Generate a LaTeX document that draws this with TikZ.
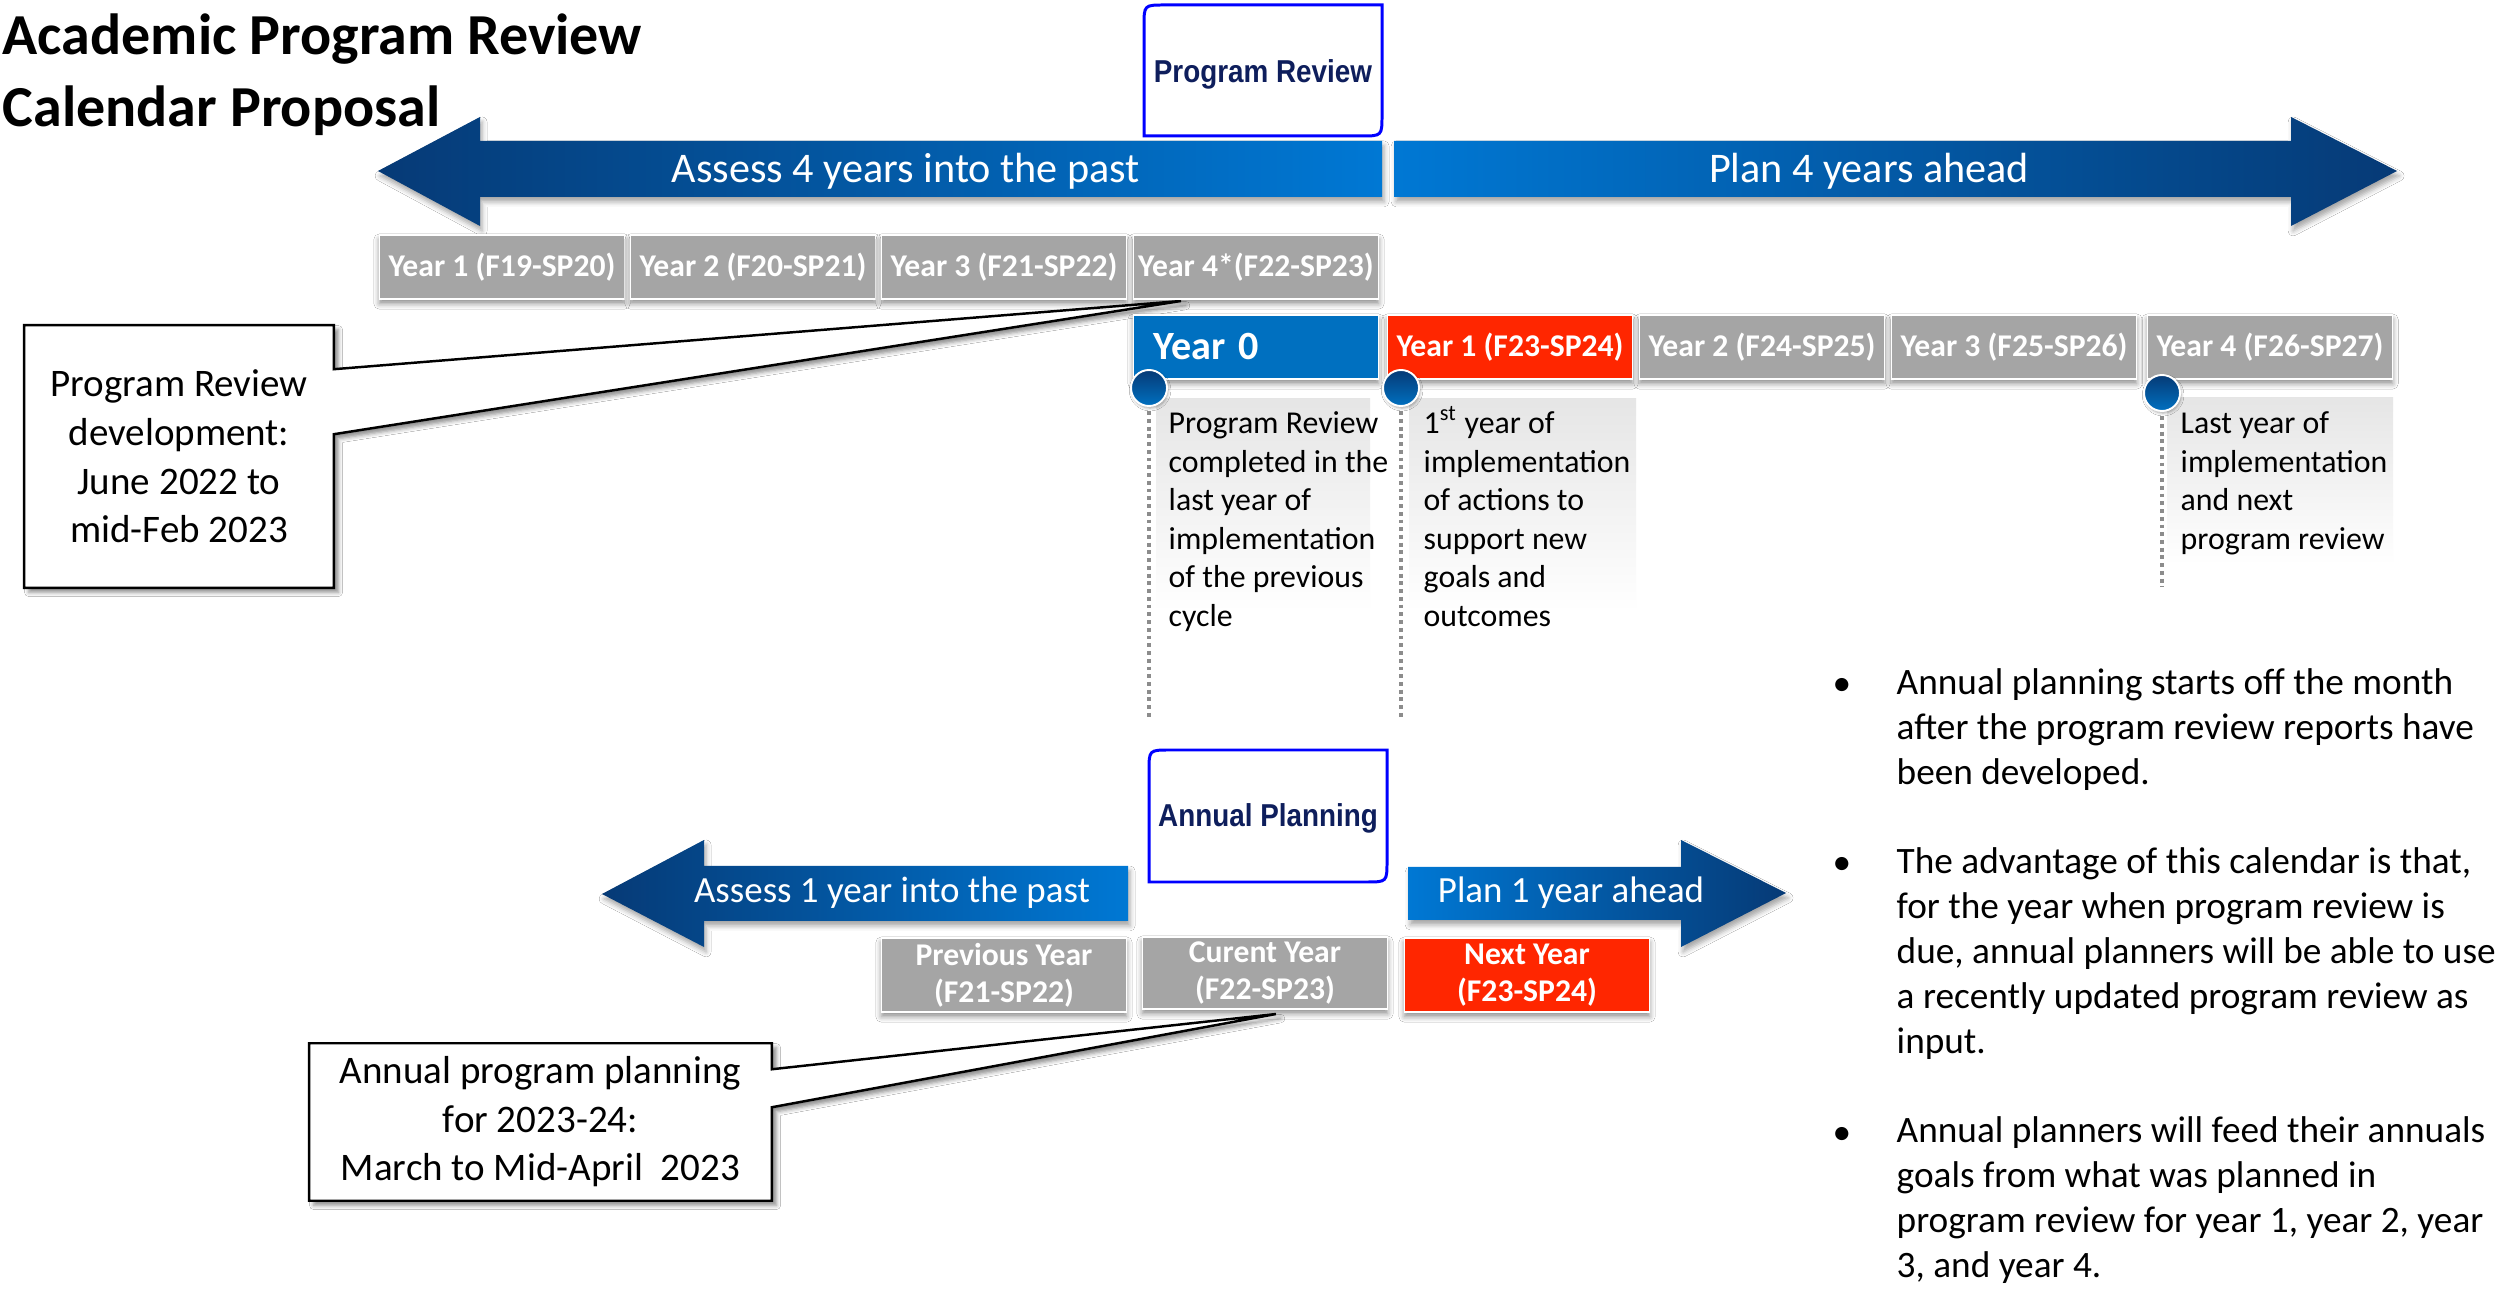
\documentclass[tikz,border=0pt]{standalone}
\usepackage{fontspec}
\setmainfont{Carlito}
\newfontfamily\arialfont[FakeStretch=0.88]{Liberation Sans}
\usetikzlibrary{calc,shadows.blur}

\definecolor{navyA}{RGB}{6,58,118}
\definecolor{brightA}{RGB}{0,120,212}
\definecolor{yrgray}{RGB}{165,165,165}
\definecolor{yrred}{RGB}{255,38,0}
\definecolor{yrblue}{RGB}{0,112,192}
\definecolor{boxblue}{RGB}{0,0,255}
\definecolor{titlenavy}{RGB}{14,30,92}
\definecolor{dotgray}{RGB}{140,140,140}

\begin{document}
\begin{tikzpicture}[x=0.01cm,y=-0.01cm,
  yrbox/.style={minimum width=2.45cm, minimum height=0.64cm, inner sep=0pt,
    draw=white, line width=0.45pt, text=white,
    font=\bfseries\fontsize{9}{10.5}\selectfont,
    blur shadow={shadow xshift=0pt, shadow yshift=-1.3pt, shadow blur radius=1.6pt, shadow opacity=45}},
  arrowshape/.style={blur shadow={shadow xshift=0.6pt, shadow yshift=-1.4pt, shadow blur radius=1.4pt, shadow opacity=35}},
  atxt/.style={text=white, inner sep=0pt, font=\fontsize{12}{14}\selectfont},
  atxtsmall/.style={text=white, inner sep=0pt, font=\fontsize{10.5}{12.5}\selectfont},
  pbox/.style={draw=boxblue, line width=0.85pt, fill=white},
  prtext/.style={text=titlenavy, inner sep=0pt, font=\arialfont\bfseries\fontsize{9}{10.8}\selectfont},
  paneltxt/.style={anchor=north west, inner sep=0pt, align=left, font=\fontsize{9.05}{10.95}\selectfont},
  panelfill/.style={top color=black!10, bottom color=white},
  dotline/.style={draw=dotgray, line width=1.1pt, dash pattern=on 1.1pt off 1.1pt},
  pin/.style={circle, minimum size=0.36cm, inner sep=0pt, top color=navyA, bottom color=yrblue,
    draw=white, line width=0.55pt,
    blur shadow={shadow xshift=0.3pt, shadow yshift=-0.6pt, shadow blur radius=0.8pt, shadow opacity=35}},
  callout/.style={draw=black, line width=0.7pt, fill=white, line join=miter,
    blur shadow={shadow xshift=1.3pt, shadow yshift=-1.3pt, shadow blur radius=1.2pt, shadow opacity=45}},
  cotext/.style={inner sep=0pt, align=center, font=\fontsize{11.1}{13.8}\selectfont},
  btext/.style={anchor=north west, inner sep=0pt, align=left, font=\fontsize{10.6}{12.8}\selectfont},
  bdot/.style={anchor=base, inner sep=0pt, font=\fontsize{10.6}{12.8}\selectfont}
]
\fill[white] (0,0) rectangle (2509,1289);
\useasboundingbox (0,0) rectangle (2509,1289);

% title
\node[anchor=north west, inner sep=0pt, align=left, font=\bfseries\fontsize{16.5}{20.5}\selectfont] (title) at (2,13) {Academic Program Review\\Calendar Proposal};

% Program Review box
\draw[pbox] (1144,136) -- (1144,26) .. controls (1144,5) .. (1165,5) -- (1382,5) -- (1382,115) .. controls (1382,136) .. (1361,136) -- cycle;
\node[prtext] (prt) at (1263,74) {Program Review};

% big arrows
\path[arrowshape, left color=navyA, right color=brightA] (378,171) -- (480,117) -- (480,141) -- (1382,141) -- (1382,197) -- (480,197) -- (480,226) -- cycle;
\path[arrowshape, left color=brightA, right color=navyA] (1394,141) -- (2291,141) -- (2291,117) -- (2397,171) -- (2291,226) -- (2291,197) -- (1394,197) -- cycle;
\node[atxt] (a1) at (906,171) {Assess 4 years into the past};
\node[atxt] (a2) at (1869,171) {Plan 4 years ahead};

% callout 1 (behind year boxes)
\node[inner sep=0pt, minimum width=3.08cm, minimum height=2.61cm] (cb1) at (179,456.5) {};
\coordinate (tip1) at (1181,301);
\draw[callout] (cb1.north west) -- (cb1.north east) -- ($(cb1.north east)+(0,44)$) -- (tip1) -- ($(cb1.north east)+(0,109)$) -- (cb1.south east) -- (cb1.south west) -- cycle;
\node[cotext] (cb1t) at (cb1) {Program Review\\development:\\June 2022 to\\mid-Feb 2023};

% top year row
\node[yrbox, fill=yrgray] (y1) at (502,267) {Year 1 (F19-SP20)};
\node[yrbox, fill=yrgray] (y2) at (753,267) {Year 2 (F20-SP21)};
\node[yrbox, fill=yrgray] (y3) at (1004,267) {Year 3 (F21-SP22)};
\node[yrbox, fill=yrgray] (y4) at (1256,267) {Year 4*(F22-SP23)};

% panels
\path[panelfill] (1156,399) rectangle (1370,612);
\path[panelfill] (1409,399) rectangle (1636,612);
\path[panelfill] (2167,398) rectangle (2393,565);

% second year row
\node[yrbox, fill=yrblue, align=left, text width=2.05cm, font=\bfseries\fontsize{11.4}{13}\selectfont] (z0) at (1256,347) {Year 0};
\node[yrbox, fill=yrred] (z1) at (1510,347) {Year 1 (F23-SP24)};
\node[yrbox, fill=yrgray] (z2) at (1762,347) {Year 2 (F24-SP25)};
\node[yrbox, fill=yrgray] (z3) at (2014,347) {Year 3 (F25-SP26)};
\node[yrbox, fill=yrgray] (z4) at (2270,347) {Year 4 (F26-SP27)};

% dotted lines and pins
\coordinate (c1) at (1149,388); \coordinate (e1) at (1149,717);
\coordinate (c2) at (1401,388); \coordinate (e2) at (1401,717);
\coordinate (c3) at (2162,393); \coordinate (e3) at (2162,587);
\draw[dotline] (c1) -- (e1);
\draw[dotline] (c2) -- (e2);
\draw[dotline] (c3) -- (e3);
\node[pin] (k1) at (c1) {};
\node[pin] (k2) at (c2) {};
\node[pin] (k3) at (c3) {};

\node[paneltxt] (p1) at (1168,411) {Program Review\\completed in the\\last year of\\implementation\\of the previous\\cycle};
\node[paneltxt] (p2) at (1423,411) {1\smash{\textsuperscript{st}} year of\\implementation\\of actions to\\support new\\goals and\\outcomes};
\node[paneltxt] (p3) at (2180,411) {Last year of\\implementation\\and next\\program review};

% Annual planning box
\draw[pbox] (1149,882) -- (1149,771) .. controls (1149,750) .. (1170,750) -- (1387,750) -- (1387,861) .. controls (1387,882) .. (1366,882) -- cycle;
\node[prtext] (apt) at (1268,818) {Annual Planning};

% small arrows
\path[arrowshape, left color=navyA, right color=brightA] (602,894) -- (704,840) -- (704,866) -- (1128,866) -- (1128,921) -- (704,921) -- (704,947) -- cycle;
\path[arrowshape, left color=brightA, right color=navyA] (1408,867) -- (1681,867) -- (1681,840) -- (1786,893) -- (1681,947) -- (1681,920) -- (1408,920) -- cycle;
\node[atxtsmall] (a3) at (892,893) {Assess 1 year into the past};
\node[atxtsmall] (a4) at (1571,893) {Plan 1 year ahead};

% callout 2
\node[inner sep=0pt, minimum width=4.61cm, minimum height=1.56cm] (cb2) at (540.5,1122) {};
\coordinate (tip2) at (1276,1014);
\draw[callout] (cb2.north west) -- (cb2.north east) -- ($(cb2.north east)+(0,26)$) -- (tip2) -- ($(cb2.north east)+(0,64)$) -- (cb2.south east) -- (cb2.south west) -- cycle;
\node[cotext] (cb2t) at (cb2) {Annual program planning\\for 2023-24:\\March to Mid-April~~2023};

% bottom year boxes
\node[yrbox, fill=yrgray, minimum height=0.74cm, align=center] (prev) at (1004,975) {Previous Year\\(F21-SP22)};
\node[yrbox, fill=yrgray, minimum height=0.72cm, align=center] (cur) at (1265,973) {Curent Year\\(F22-SP23)};
\node[yrbox, fill=yrred, minimum height=0.74cm, align=center] (next) at (1527,975) {Next Year\\(F23-SP24)};

% bullets
\node[bdot] (bd1) at (1842,696) {•};
\node[btext] (bt1) at (1896,668) {Annual planning starts off the month\\after the program review reports have\\been developed.};
\node[bdot] (bd2) at (1842,875) {•};
\node[btext] (bt2) at (1896,847) {The advantage of this calendar is that,\\for the year when program review is\\due, annual planners will be able to use\\a recently updated program review as\\input.};
\node[bdot] (bd3) at (1842,1144) {•};
\node[btext] (bt3) at (1896,1116) {Annual planners will feed their annuals\\goals from what was planned in\\program review for year 1, year 2, year\\3, and year 4.};
\end{tikzpicture}
\end{document}
